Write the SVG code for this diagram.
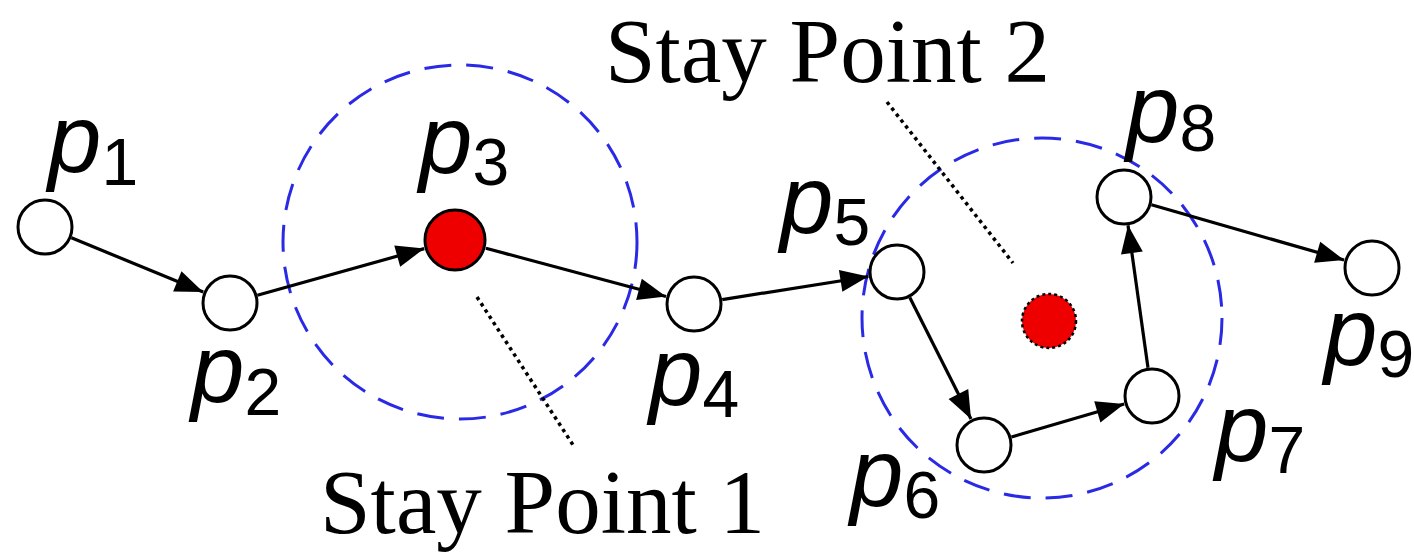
<svg xmlns="http://www.w3.org/2000/svg" width="1414" height="553" viewBox="0 0 1414 553">
<style>
.node{fill:#fff;stroke:#000;stroke-width:3}
.red{fill:#ee0000;stroke:#000;stroke-width:3}
.zone{fill:none;stroke:#2a2ae6;stroke-width:3;stroke-dasharray:27 15}
.edge{stroke:#000;stroke-width:3.2;fill:none;marker-end:url(#arr)}
.dot{stroke:#000;stroke-width:3.5;stroke-dasharray:3.5 4;fill:none}
.lbl{font-family:"Liberation Sans",Arial,sans-serif;font-size:96px;fill:#000}
.lbl .v{font-style:italic}
.lbl .s{font-size:66px}
.title{font-family:"Liberation Serif","Times New Roman",serif;font-size:91px;fill:#000}
</style>
<defs>
<marker id="arr" markerUnits="userSpaceOnUse" markerWidth="30" markerHeight="24" refX="28" refY="11" orient="auto" viewBox="0 0 30 24" overflow="visible">
<path d="M0,0 L28,11 L0,22 Z" fill="#000"/>
</marker>
</defs>
<rect width="1414" height="553" fill="#fff"/>
<g id="zones">
<circle class="zone" cx="460" cy="242" r="177"/>
<circle class="zone" cx="1042" cy="318" r="180"/>
</g>
<g id="leaders">
<line class="dot" x1="477" y1="297" x2="575" y2="448"/>
<line class="dot" x1="887" y1="102" x2="1013" y2="263"/>
</g>
<g id="connectors">
<line class="edge" x1="71.4" y1="237.8" x2="203.2" y2="292"/>
<line class="edge" x1="257.4" y1="295.3" x2="424.2" y2="248.6"/>
<line class="edge" x1="485.9" y1="248.3" x2="666" y2="296.5"/>
<line class="edge" x1="722.2" y1="299.6" x2="868.3" y2="276.5"/>
<line class="edge" x1="909.8" y1="297.5" x2="971" y2="419"/>
<line class="edge" x1="1011.4" y1="437" x2="1124.2" y2="404"/>
<line class="edge" x1="1148" y1="367.8" x2="1128" y2="225.2"/>
<line class="edge" x1="1151.4" y1="204.8" x2="1344.1" y2="260"/>
</g>
<g id="p1"><circle class="node" cx="45" cy="227" r="27"/><text class="lbl" x="48" y="172"><tspan class="v">p</tspan><tspan class="s" dy="13">1</tspan></text></g>
<g id="p2"><circle class="node" cx="230" cy="303" r="27"/><text class="lbl" x="191" y="402"><tspan class="v">p</tspan><tspan class="s" dy="13">2</tspan></text></g>
<g id="p3"><circle class="red" cx="455" cy="240" r="30"/><text class="lbl" x="419" y="173"><tspan class="v">p</tspan><tspan class="s" dy="12">3</tspan></text></g>
<g id="p4"><circle class="node" cx="694" cy="304" r="27"/><text class="lbl" x="649" y="405"><tspan class="v">p</tspan><tspan class="s" dy="12">4</tspan></text></g>
<g id="p5"><circle class="node" cx="897" cy="272" r="27"/><text class="lbl" x="780" y="233"><tspan class="v">p</tspan><tspan class="s" dy="12">5</tspan></text></g>
<g id="p6"><circle class="node" cx="984" cy="445" r="27"/><text class="lbl" x="850" y="506"><tspan class="v">p</tspan><tspan class="s" dy="12">6</tspan></text></g>
<g id="p7"><circle class="node" cx="1152" cy="396" r="27"/><text class="lbl" x="1215" y="461"><tspan class="v">p</tspan><tspan class="s" dy="12">7</tspan></text></g>
<g id="p8"><circle class="node" cx="1124" cy="197" r="27"/><text class="lbl" x="1126" y="142"><tspan class="v">p</tspan><tspan class="s" dy="9">8</tspan></text></g>
<g id="p9"><circle class="node" cx="1372" cy="268" r="27"/><text class="lbl" x="1324" y="365"><tspan class="v">p</tspan><tspan class="s" dy="12">9</tspan></text></g>
<g id="stay-centroid"><circle cx="1049" cy="321" r="27" fill="#ee0000" stroke="#000" stroke-width="2.5" stroke-dasharray="3 3"/></g>
<g id="stay-label-1"><text class="title" x="320" y="533">Stay Point 1</text></g>
<g id="stay-label-2"><text class="title" x="605" y="82">Stay Point 2</text></g>
</svg>
